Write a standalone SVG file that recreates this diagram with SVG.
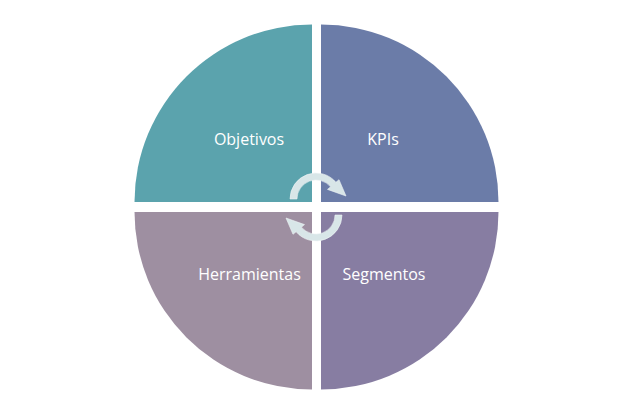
<svg xmlns="http://www.w3.org/2000/svg" width="634" height="414" viewBox="0 0 634 414">
  <defs>
    <style>
      .lbl { font-family: "Open Sans", "Liberation Sans", sans-serif; font-size: 16px; fill: #ffffff; text-anchor: middle; }
      .arrow { fill: #d8e6e8; stroke: #eef4f5; stroke-width: 0.6; stroke-linejoin: round; }
    </style>
    <path id="cyc" d="M290,199 A26,26 0 0 1 335.9,182.3 L339,179.7 L346,196 L327.5,189.4 L330.6,186.8 A19,19 0 0 0 297,199 Z"/>
  </defs>
  <rect width="634" height="414" fill="#ffffff"/>
  <g id="objetivos">
    <path d="M312,202 L134.5,202 A177.5,177.5 0 0 1 312,24.5 Z" fill="#5ba3ad"/>
    <text class="lbl" x="249" y="145">Objetivos</text>
  </g>
  <g id="kpis">
    <path d="M321,202 L321,24.5 A177.5,177.5 0 0 1 498.5,202 Z" fill="#6b7ca8"/>
    <text class="lbl" x="383" y="145">KPIs</text>
  </g>
  <g id="herramientas">
    <path d="M312,212 L312,389.5 A177.5,177.5 0 0 1 134.5,212 Z" fill="#9e8fa1"/>
    <text class="lbl" x="249.5" y="280">Herramientas</text>
  </g>
  <g id="segmentos">
    <path d="M321,212 L498.5,212 A177.5,177.5 0 0 1 321,389.5 Z" fill="#877da2"/>
    <text class="lbl" x="384" y="280">Segmentos</text>
  </g>
  <g id="connectors">
    <use href="#cyc" class="arrow"/>
    <use href="#cyc" class="arrow" transform="rotate(180 316 207)"/>
  </g>
</svg>
